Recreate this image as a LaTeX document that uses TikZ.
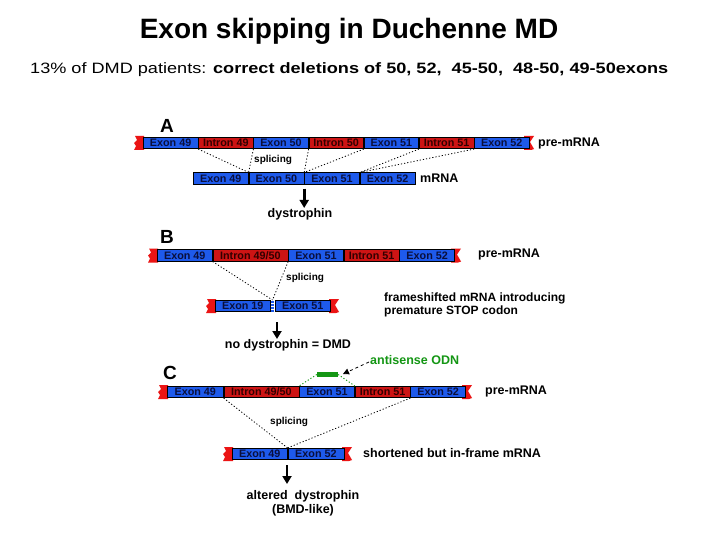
\documentclass[tikz,border=0pt]{standalone}
\usepackage{fontspec}
\setmainfont{Liberation Sans}
\usetikzlibrary{arrows.meta}
\definecolor{exblue}{RGB}{30,90,235}
\definecolor{inred}{RGB}{205,20,20}
\definecolor{capred}{RGB}{235,20,20}
\definecolor{extxt}{RGB}{10,15,60}
\definecolor{intxt}{RGB}{50,0,0}
\definecolor{odn}{RGB}{20,150,20}
\newcommand\lcap[2]{\fill[capred] ({#1+1},{#2-7}) -- ({#1-8},{#2-7}) -- ({#1-6},{#2-3}) -- ({#1-9},{#2}) -- ({#1-7},{#2+3}) -- ({#1-9},{#2+7}) -- ({#1+1},{#2+7}) -- cycle;}
\newcommand\rcap[2]{\fill[capred] ({#1-1},{#2-7}) -- ({#1+9},{#2-7}) -- ({#1+5},{#2-1}) -- ({#1+9},{#2+6}) -- ({#1+6},{#2+7}) -- ({#1-1},{#2+7}) -- cycle;}
\begin{document}
\begin{tikzpicture}[x=1pt,y=-1pt,
  seg/.style={draw=black,line width=0.6pt,inner sep=0pt,minimum height=11.5pt,anchor=west,font=\fontsize{10.8}{10}\selectfont\bfseries},
  exon/.style={seg,fill=exblue,text=extxt},
  intron/.style={seg,fill=inred,text=intxt},
  lbl/.style={font=\fontsize{12.5}{14}\selectfont\bfseries,inner sep=0pt},
  splc/.style={font=\fontsize{10}{12}\selectfont\bfseries,inner sep=0pt},
  panel/.style={font=\fontsize{19}{19}\selectfont\bfseries,inner sep=0pt},
  dots/.style={line width=0.8pt,dash pattern=on 1.2pt off 2pt},
  bigarrow/.style={line width=2.6pt,-{Triangle[width=9pt,length=8pt]}}]
\useasboundingbox[fill=white] (0,0) rectangle (720,540);
% titles
\node[font=\fontsize{28}{30}\selectfont\bfseries,inner sep=0pt] (title) at (349,31) {Exon skipping in Duchenne MD};
\node[font=\fontsize{15}{17}\selectfont,inner sep=0pt,anchor=west] (sub) at (30,70) {\resizebox{638pt}{\height}{13\% of DMD patients: \textbf{correct deletions of 50, 52,\ \ 45-50,\ \ 48-50, 49-50exons}}};
% ---------------- A ----------------
\node[panel] (lA) at (167,126) {A};
\lcap{143}{143}\rcap{525}{143}
\node[exon,minimum width=54.6pt] (pa1) at (143,143) {Exon 49};
\node[intron,minimum width=54.6pt] (pa2) at (pa1.east) {Intron 49};
\node[exon,minimum width=54.6pt] (pa3) at (pa2.east) {Exon 50};
\node[intron,minimum width=54.6pt] (pa4) at (pa3.east) {Intron 50};
\node[exon,minimum width=54.6pt] (pa5) at (pa4.east) {Exon 51};
\node[intron,minimum width=54.6pt] (pa6) at (pa5.east) {Intron 51};
\node[exon,minimum width=54.6pt] (pa7) at (pa6.east) {Exon 52};
\node[lbl,anchor=west] (preA) at (538,143) {pre-mRNA};
\node[exon,minimum width=55pt] (ma1) at (193,178.5) {Exon 49};
\node[exon,minimum width=55pt] (ma2) at (ma1.east) {Exon 50};
\node[exon,minimum width=55pt] (ma3) at (ma2.east) {Exon 51};
\node[exon,minimum width=55pt] (ma4) at (ma3.east) {Exon 52};
\node[lbl,anchor=west] (mA) at (420,178) {mRNA};
\node[splc,anchor=west] (sA) at (254,160) {splicing};
\draw[dots] (pa1.south east) -- (ma1.north east);
\draw[dots] (pa3.south west) -- (ma1.north east);
\draw[dots] (pa3.south east) -- (ma2.north east);
\draw[dots] (pa5.south west) -- (ma2.north east);
\draw[dots] (pa5.south east) -- (ma3.north east);
\draw[dots] (pa7.south west) -- (ma3.north east);
\node[lbl] (dA) at (300,214) {dystrophin};
\draw[bigarrow] (ma2.south east) ++(0,4) coordinate (aA) -- (dA.north -| aA);
% ---------------- B ----------------
\node[panel] (lB) at (167,237) {B};
\lcap{157}{255.5}\rcap{452}{255.5}
\node[exon,minimum width=55pt] (pb1) at (157,255.5) {Exon 49};
\node[intron,minimum width=75pt] (pb2) at (pb1.east) {Intron 49/50};
\node[exon,minimum width=55pt] (pb3) at (pb2.east) {Exon 51};
\node[intron,minimum width=55pt] (pb4) at (pb3.east) {Intron 51};
\node[exon,minimum width=55pt] (pb5) at (pb4.east) {Exon 52};
\node[lbl,anchor=west] (preB) at (478,254) {pre-mRNA};
\lcap{215}{306}\rcap{330}{306}
\node[exon,minimum width=55pt] (mb1) at (215,306) {Exon 19};
\node[exon,minimum width=55pt] (mb2) at (275,306) {Exon 51};
\draw[exblue,line width=3pt,dash pattern=on 2pt off 1pt] (272.5,300.5) -- (272.5,311.5);
\coordinate (jB) at (272.5,300);
\draw[dots] (pb1.south east) -- (jB);
\draw[dots] (pb2.south east) -- (jB);
\node[splc,anchor=west] (sB) at (286,278) {splicing};
\node[lbl,anchor=north west,align=left,font=\fontsize{12}{13}\selectfont\bfseries] (fsB) at (384,293) {frameshifted mRNA introducing\\premature STOP codon};
\node[lbl] (dB) at (288,345) {no dystrophin = DMD};
\draw[bigarrow] (277,322) -- (277,339);
% ---------------- C ----------------
\node[panel] (lC) at (170,373) {C};
\lcap{167}{392}\rcap{463}{392}
\node[exon,minimum width=56pt] (pc1) at (167,392) {Exon 49};
\node[intron,minimum width=75pt] (pc2) at (pc1.east) {Intron 49/50};
\node[exon,minimum width=55pt] (pc3) at (pc2.east) {Exon 51};
\node[intron,minimum width=55pt] (pc4) at (pc3.east) {Intron 51};
\node[exon,minimum width=55pt] (pc5) at (pc4.east) {Exon 52};
\node[lbl,anchor=west] (preC) at (485,391) {pre-mRNA};
\node[fill=odn,minimum width=21pt,minimum height=5pt,inner sep=0pt] (odnbar) at (327.5,374.5) {};
\draw[odn,line width=0.9pt,dash pattern=on 1.2pt off 2pt] (odnbar.west) -- (pc3.north west);
\draw[odn,line width=0.9pt,dash pattern=on 1.2pt off 2pt] (odnbar.east) -- (pc4.north west);
\node[lbl,text=odn,anchor=west] (odnl) at (370,360) {antisense ODN};
\draw[dashed,line width=0.8pt,-{Triangle[width=6pt,length=6pt]}] (odnl.west) ++(-1,2) -- (343,374);
\lcap{232}{454}\rcap{343}{454}
\node[exon,minimum width=55pt] (mc1) at (232,454) {Exon 49};
\node[exon,minimum width=56pt] (mc2) at (mc1.east) {Exon 52};
\draw[dots] (pc1.south east) -- (mc1.north east);
\draw[dots] (pc5.south west) -- (mc1.north east);
\node[splc,anchor=west] (sC) at (270,422) {splicing};
\node[lbl,anchor=west] (shC) at (363,453) {shortened but in-frame mRNA};
\draw[bigarrow] (287,465) -- (287,484);
\node[lbl,align=center] (altC) at (303,503.5) {altered\ \ dystrophin\\(BMD-like)};
\end{tikzpicture}
\end{document}
